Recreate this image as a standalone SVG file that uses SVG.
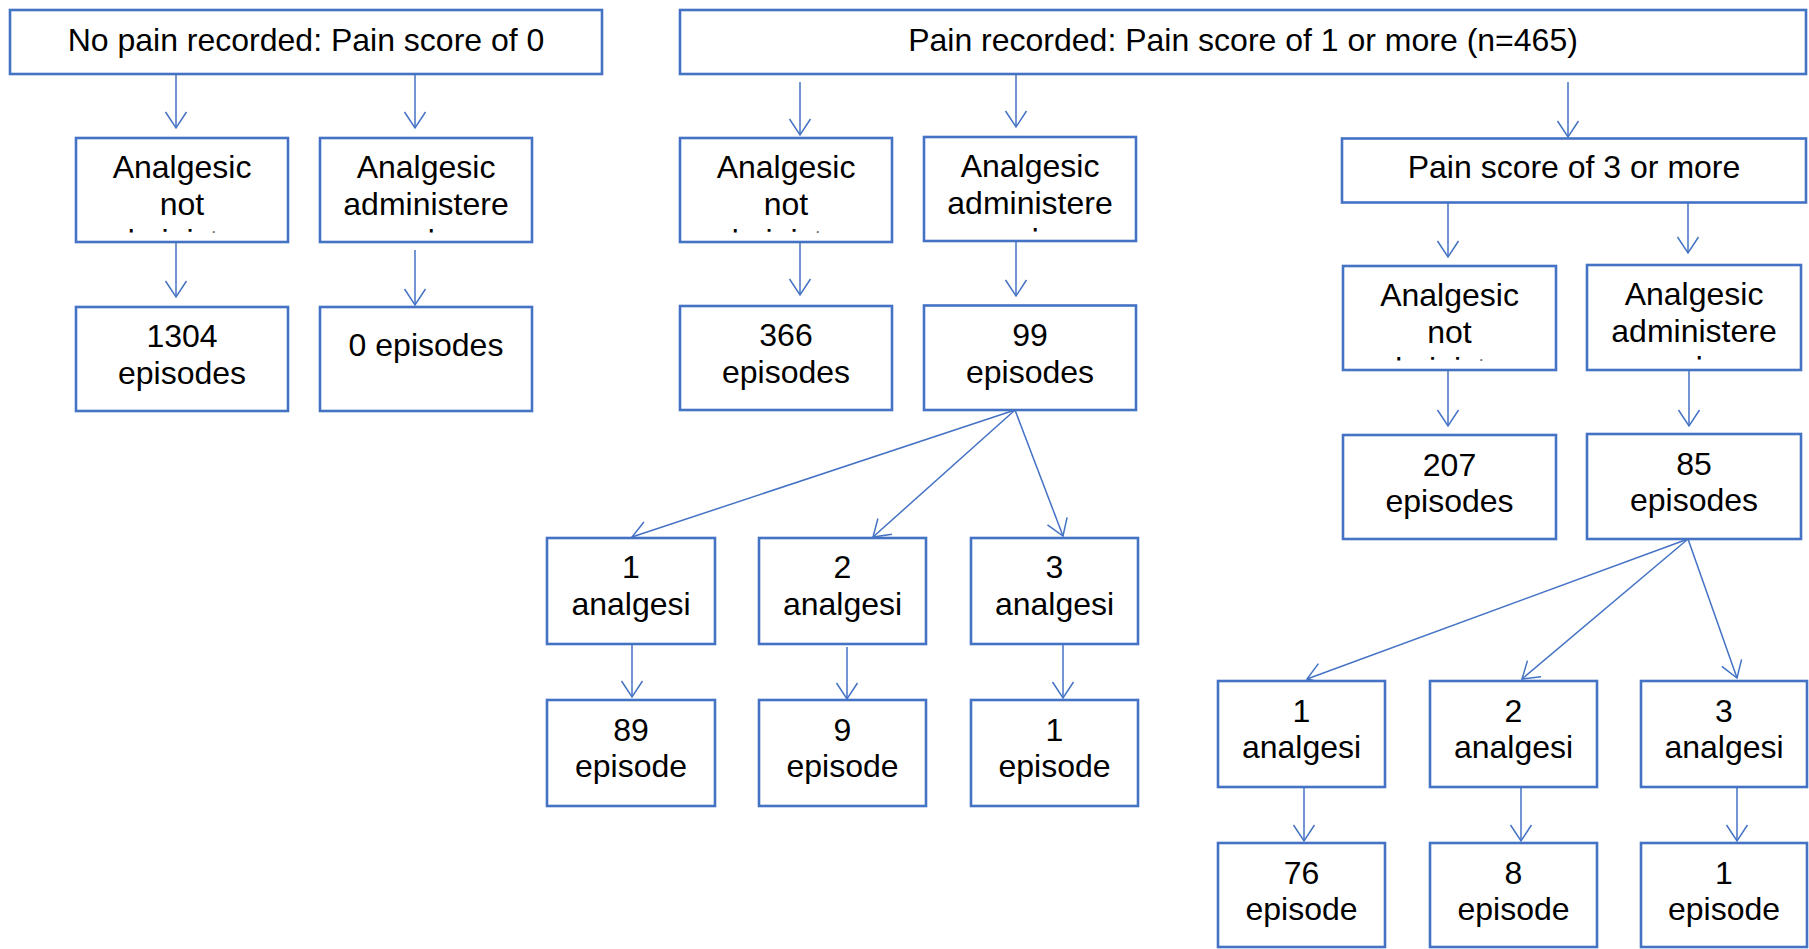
<svg xmlns="http://www.w3.org/2000/svg" width="1809" height="949" viewBox="0 0 1809 949">
<style>
.box{fill:#fff;stroke:#4472C4;stroke-width:2.6}
.t{font-family:"Liberation Sans",Arial,sans-serif;font-size:32px;fill:#000;text-anchor:middle}
.c{stroke:#4472C4;stroke-width:1.5;fill:none;marker-end:url(#ah)}
</style>
<defs>
<marker id="ah" viewBox="-20 -12 22 24" refX="0" refY="0" markerWidth="22" markerHeight="24" markerUnits="userSpaceOnUse" orient="auto" overflow="visible">
<path d="M-16,-10.5 L0,0 L-16,10.5" fill="none" stroke="#4472C4" stroke-width="1.5"/>
</marker>
<clipPath id="kC1"><rect x="76" y="138" width="212" height="94.5"/></clipPath>
<clipPath id="kC2"><rect x="320" y="138" width="212" height="94.5"/></clipPath>
<clipPath id="kC3"><rect x="680" y="138" width="212" height="94.5"/></clipPath>
<clipPath id="kC4"><rect x="924" y="137" width="212" height="94.5"/></clipPath>
<clipPath id="kE1"><rect x="1343" y="266" width="213" height="94.5"/></clipPath>
<clipPath id="kE2"><rect x="1587" y="265" width="214" height="94.5"/></clipPath>
</defs>
<g id="connectors">
<path class="c" d="M176,74 V128"/>
<path class="c" d="M415,74 V128"/>
<path class="c" d="M176,242 V297"/>
<path class="c" d="M415,250 V305"/>
<path class="c" d="M800,82 V135"/>
<path class="c" d="M1016,74 V127"/>
<path class="c" d="M1568,82 V137"/>
<path class="c" d="M800,242 V295"/>
<path class="c" d="M1016,241 V296"/>
<path class="c" d="M1015,410 L632,537"/>
<path class="c" d="M1015,410 L873,537"/>
<path class="c" d="M1015,410 L1063,536"/>
<path class="c" d="M632,644 V697"/>
<path class="c" d="M847,647 V699"/>
<path class="c" d="M1063,644 V698"/>
<path class="c" d="M1448,203 V257"/>
<path class="c" d="M1688,199 V253"/>
<path class="c" d="M1448,370 V426"/>
<path class="c" d="M1689,370 V426"/>
<path class="c" d="M1688,539 L1307,679"/>
<path class="c" d="M1688,539 L1522,679"/>
<path class="c" d="M1688,539 L1737,678"/>
<path class="c" d="M1304,787 V841"/>
<path class="c" d="M1521,787 V841"/>
<path class="c" d="M1737,787 V841"/>
</g>
<g id="A"><rect class="box" x="10" y="10" width="592" height="64"/><text class="t" x="306" y="51">No pain recorded: Pain score of 0</text></g>
<g id="B"><rect class="box" x="680" y="10" width="1126" height="64"/><text class="t" x="1243" y="51">Pain recorded: Pain score of 1 or more (n=465)</text></g>
<g id="C1"><rect class="box" x="76" y="138" width="212" height="104"/><text class="t" x="182" y="178">Analgesic</text><text class="t" x="182" y="215">not</text><text class="t" x="182" y="252" clip-path="url(#kC1)">administere</text></g>
<g id="C2"><rect class="box" x="320" y="138" width="212" height="104"/><text class="t" x="426" y="178">Analgesic</text><text class="t" x="426" y="215">administere</text><text class="t" x="426" y="252" clip-path="url(#kC2)">d</text></g>
<g id="C3"><rect class="box" x="680" y="138" width="212" height="104"/><text class="t" x="786" y="178">Analgesic</text><text class="t" x="786" y="215">not</text><text class="t" x="786" y="252" clip-path="url(#kC3)">administere</text></g>
<g id="C4"><rect class="box" x="924" y="137" width="212" height="104"/><text class="t" x="1030" y="177">Analgesic</text><text class="t" x="1030" y="214">administere</text><text class="t" x="1030" y="251" clip-path="url(#kC4)">d</text></g>
<g id="P3"><rect class="box" x="1342" y="138.5" width="464" height="64"/><text class="t" x="1574" y="178">Pain score of 3 or more</text></g>
<g id="D1"><rect class="box" x="76" y="307" width="212" height="104"/><text class="t" x="182" y="347">1304</text><text class="t" x="182" y="384">episodes</text></g>
<g id="D2"><rect class="box" x="320" y="307" width="212" height="104"/><text class="t" x="426" y="356">0 episodes</text></g>
<g id="D3"><rect class="box" x="680" y="306" width="212" height="104"/><text class="t" x="786" y="346">366</text><text class="t" x="786" y="383">episodes</text></g>
<g id="D4"><rect class="box" x="924" y="305.5" width="212" height="104.5"/><text class="t" x="1030" y="345.5">99</text><text class="t" x="1030" y="382.5">episodes</text></g>
<g id="E1"><rect class="box" x="1343" y="266" width="213" height="104"/><text class="t" x="1449.5" y="306">Analgesic</text><text class="t" x="1449.5" y="343">not</text><text class="t" x="1449.5" y="380" clip-path="url(#kE1)">administere</text></g>
<g id="E2"><rect class="box" x="1587" y="265" width="214" height="105"/><text class="t" x="1694" y="305">Analgesic</text><text class="t" x="1694" y="342">administere</text><text class="t" x="1694" y="379" clip-path="url(#kE2)">d</text></g>
<g id="F1"><rect class="box" x="1343" y="435" width="213" height="104"/><text class="t" x="1449.5" y="476">207</text><text class="t" x="1449.5" y="512">episodes</text></g>
<g id="F2"><rect class="box" x="1587" y="434" width="214" height="105"/><text class="t" x="1694" y="475">85</text><text class="t" x="1694" y="511">episodes</text></g>
<g id="G1"><rect class="box" x="547" y="538" width="168" height="106"/><text class="t" x="631" y="578">1</text><text class="t" x="631" y="615">analgesi</text></g>
<g id="G2"><rect class="box" x="759" y="538" width="167" height="106"/><text class="t" x="842.5" y="578">2</text><text class="t" x="842.5" y="615">analgesi</text></g>
<g id="G3"><rect class="box" x="971" y="538" width="167" height="106"/><text class="t" x="1054.5" y="578">3</text><text class="t" x="1054.5" y="615">analgesi</text></g>
<g id="H1"><rect class="box" x="547" y="700" width="168" height="106"/><text class="t" x="631" y="740.5">89</text><text class="t" x="631" y="776.5">episode</text></g>
<g id="H2"><rect class="box" x="759" y="700" width="167" height="106"/><text class="t" x="842.5" y="740.5">9</text><text class="t" x="842.5" y="776.5">episode</text></g>
<g id="H3"><rect class="box" x="971" y="700" width="167" height="106"/><text class="t" x="1054.5" y="740.5">1</text><text class="t" x="1054.5" y="776.5">episode</text></g>
<g id="I1"><rect class="box" x="1218" y="681" width="167" height="106"/><text class="t" x="1301.5" y="722">1</text><text class="t" x="1301.5" y="758">analgesi</text></g>
<g id="I2"><rect class="box" x="1430" y="681" width="167" height="106"/><text class="t" x="1513.5" y="722">2</text><text class="t" x="1513.5" y="758">analgesi</text></g>
<g id="I3"><rect class="box" x="1641" y="681" width="166" height="106"/><text class="t" x="1724" y="722">3</text><text class="t" x="1724" y="758">analgesi</text></g>
<g id="J1"><rect class="box" x="1218" y="843" width="167" height="104"/><text class="t" x="1301.5" y="883.5">76</text><text class="t" x="1301.5" y="919.5">episode</text></g>
<g id="J2"><rect class="box" x="1430" y="843" width="167" height="104"/><text class="t" x="1513.5" y="883.5">8</text><text class="t" x="1513.5" y="919.5">episode</text></g>
<g id="J3"><rect class="box" x="1641" y="843" width="166" height="104"/><text class="t" x="1724" y="883.5">1</text><text class="t" x="1724" y="919.5">episode</text></g>
</svg>
